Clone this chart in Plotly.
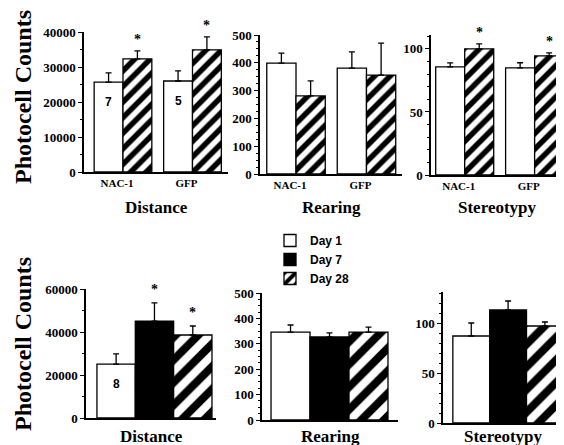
import plotly.graph_objects as go

# ---------------- data ----------------
groups_top = ["NAC-1", "GFP"]
days = ["Day 1", "Day 7", "Day 28"]
measures = ["Distance", "Rearing", "Stereotypy"]
y_title = "Photocell Counts"

# top row (Day 1 = white, Day 28 = hatched)
dist_top_day1 = [25700, 26000]
dist_top_day1_se = [2600, 2900]
dist_top_day28 = [32300, 34900]
dist_top_day28_se = [2300, 3700]
rear_top_day1 = [399, 381]
rear_top_day1_se = [36, 58]
rear_top_day28 = [281, 356]
rear_top_day28_se = [54, 115]
ster_top_day1 = [85.7, 85.0]
ster_top_day1_se = [3.2, 4.0]
ster_top_day28 = [100.0, 94.4]
ster_top_day28_se = [4.0, 2.4]
top_day28_sig = [[True, True], [False, False], [True, True]]
top_n = ["7", "5"]

# bottom row (Day 1, Day 7, Day 28)
dist_bot = [25100, 45100, 38600]
dist_bot_se = [4700, 8400, 4200]
rear_bot = [346, 327, 346]
rear_bot_se = [28, 16, 20]
ster_bot = [87, 113, 97]
ster_bot_se = [13, 9, 4]
bot_sig = [[False, True, True], [False, False, False], [False, False, False]]
bot_n = "8"

top_ticks = [[0, 10000, 20000, 30000, 40000], [0, 100, 200, 300, 400, 500], [0, 50, 100]]
bot_ticks = [[0, 20000, 40000, 60000], [0, 100, 200, 300, 400, 500], [0, 50, 100]]

# ---------------- layout geometry ----------------
# the page body adds an 8 px offset; positions below are in window pixels
VW, VH = 564, 445
OFF = 8
W, H = VW - OFF, VH - OFF


def px_x(p):
    return (p - OFF) / W


def px_y(p):
    return 1 - (p - OFF) / H


BARGAP = 0.17
xdom_px = [(84, 228), (260, 402), (431, 564), (86, 216), (262, 398), (443, 564)]
ydom_px = [(32, 172), (35, 174), (35, 175), (289, 418), (293, 420), (292, 423)]
xranges = [[-0.561, 1.511], [-0.511, 1.504], [-0.482, 1.42],
           [-0.494, 0.444], [-0.479, 0.486], [-0.489, 0.42]]
yranges = [[0, 40000], [0, 500], [0, 111], [0, 60000], [0, 500], [0, 131]]
minor_dt = [5000, 25, 10, 10000, 25, 10]

SERIF = "Liberation Serif"
SANS = "Liberation Sans"

styles = {
    "Day 1": dict(color="white"),
    "Day 7": dict(color="black"),
    "Day 28": dict(color="white", pattern=dict(shape="/", fgcolor="black", bgcolor="white",
                                                fgopacity=1, fillmode="replace",
                                                solidity=0.5)),
}

fig = go.Figure()


def err(se):
    return dict(type="data", array=se, arrayminus=[0] * len(se), symmetric=False,
                color="black", thickness=1.3, width=3)


def marker_for(day, size):
    m = dict(styles[day])
    if "pattern" in m:
        p = dict(m["pattern"])
        p["size"] = size
        m["pattern"] = p
    m["line"] = dict(color="black", width=1.3)
    return m


top_vals = [(dist_top_day1, dist_top_day1_se, dist_top_day28, dist_top_day28_se),
            (rear_top_day1, rear_top_day1_se, rear_top_day28, rear_top_day28_se),
            (ster_top_day1, ster_top_day1_se, ster_top_day28, ster_top_day28_se)]

annotations = []
star_font = dict(family=SERIF, size=14, color="black", weight="bold")
n_font = dict(family=SANS, size=12, color="black", weight="bold")

for i, (v1, s1, v28, s28) in enumerate(top_vals):
    ax = "" if i == 0 else str(i + 1)
    for j, (day, v, s) in enumerate([("Day 1", v1, s1), ("Day 28", v28, s28)]):
        fig.add_trace(go.Bar(x=groups_top, y=v, name=day, showlegend=False,
                             marker=marker_for(day, 11), error_y=err(s),
                             xaxis="x" + ax, yaxis="y" + ax))
    off = (1 - BARGAP) / 4
    for k, sig in enumerate(top_day28_sig[i]):
        if sig:
            annotations.append(dict(x=k + off, y=v28[k] + s28[k], xref="x" + ax, yref="y" + ax,
                                    text="*", showarrow=False, yanchor="bottom", yshift=2,
                                    font=star_font))
    if i == 0:
        for k, n in enumerate(top_n):
            annotations.append(dict(x=k - off, y=v1[k], xref="x" + ax, yref="y" + ax,
                                    text=n, showarrow=False, yanchor="top", yshift=-11,
                                    font=n_font))

bot_vals = [(dist_bot, dist_bot_se), (rear_bot, rear_bot_se), (ster_bot, ster_bot_se)]
for i, (v, s) in enumerate(bot_vals):
    ax = str(i + 4)
    for j, day in enumerate(days):
        fig.add_trace(go.Bar(x=[measures[i]], y=[v[j]], name=day, showlegend=(i == 0),
                             legendgroup=day, marker=marker_for(day, 16), error_y=err([s[j]]),
                             xaxis="x" + ax, yaxis="y" + ax))
    off = (1 - BARGAP) / 3
    for j, sig in enumerate(bot_sig[i]):
        if sig:
            annotations.append(dict(x=(j - 1) * off, y=v[j] + s[j], xref="x" + ax, yref="y" + ax,
                                    text="*", showarrow=False, yanchor="bottom", yshift=4,
                                    font=star_font))
    if i == 0:
        annotations.append(dict(x=-off, y=v[0], xref="x" + ax, yref="y" + ax,
                                text=bot_n, showarrow=False, yanchor="top", yshift=-11,
                                font=n_font))

# panel titles
for i in range(6):
    ax = "" if i == 0 else str(i + 1)
    ypx = 207 if i < 3 else 436
    annotations.append(dict(x=0.5, xref="x" + ax + " domain", y=px_y(ypx), yref="paper",
                            text=measures[i % 3], showarrow=False, yanchor="middle",
                            font=dict(family=SERIF, size=17, color="black", weight="bold")))

# y titles
for ypx in (97, 344):
    annotations.append(dict(x=px_x(23), y=px_y(ypx), xref="paper", yref="paper",
                            text=y_title, textangle=-90, showarrow=False,
                            xanchor="center", yanchor="middle",
                            font=dict(family=SERIF, size=24, color="black", weight="bold")))

layout = dict(
    width=W, height=H, margin=dict(l=0, r=0, t=0, b=0, autoexpand=False),
    paper_bgcolor="white", plot_bgcolor="white",
    barmode="group", bargap=BARGAP, bargroupgap=0,
    annotations=annotations,
    legend=dict(x=px_x(270), y=px_y(226), xanchor="left", yanchor="top",
                font=dict(family=SANS, size=12, color="black", weight="bold"),
                bgcolor="rgba(0,0,0,0)", tracegroupgap=0, itemwidth=30,
                traceorder="normal"),
)

all_ticks = top_ticks + bot_ticks
for i in range(6):
    ax = "" if i == 0 else str(i + 1)
    x0, x1 = xdom_px[i]
    yt, yb = ydom_px[i]
    layout["xaxis" + ax] = dict(
        domain=[px_x(x0), min(1.0, px_x(x1))], range=xranges[i], anchor="y" + ax,
        type="category", automargin=False,
        showline=True, linecolor="black", linewidth=1.5, ticks="", showgrid=False,
        zeroline=False, showticklabels=(i < 3), ticklabelshift=-6,
        tickfont=dict(family=SERIF, size=11, color="black", weight="bold"),
    )
    layout["yaxis" + ax] = dict(
        domain=[px_y(yb), px_y(yt)], range=yranges[i], anchor="x" + ax,
        automargin=False,
        showline=True, linecolor="black", linewidth=1.5, ticks="outside", ticklen=4,
        tickwidth=1.3, tickcolor="black", tickvals=all_ticks[i], tickformat="d",
        showgrid=False, zeroline=False,
        minor=dict(dtick=minor_dt[i], ticks="outside", ticklen=2, tickcolor="black",
                   tickwidth=1, showgrid=False),
        tickfont=dict(family=SERIF, size=13, color="black", weight="bold"),
    )

fig.update_layout(**layout)
fig.write_html("out.html")
